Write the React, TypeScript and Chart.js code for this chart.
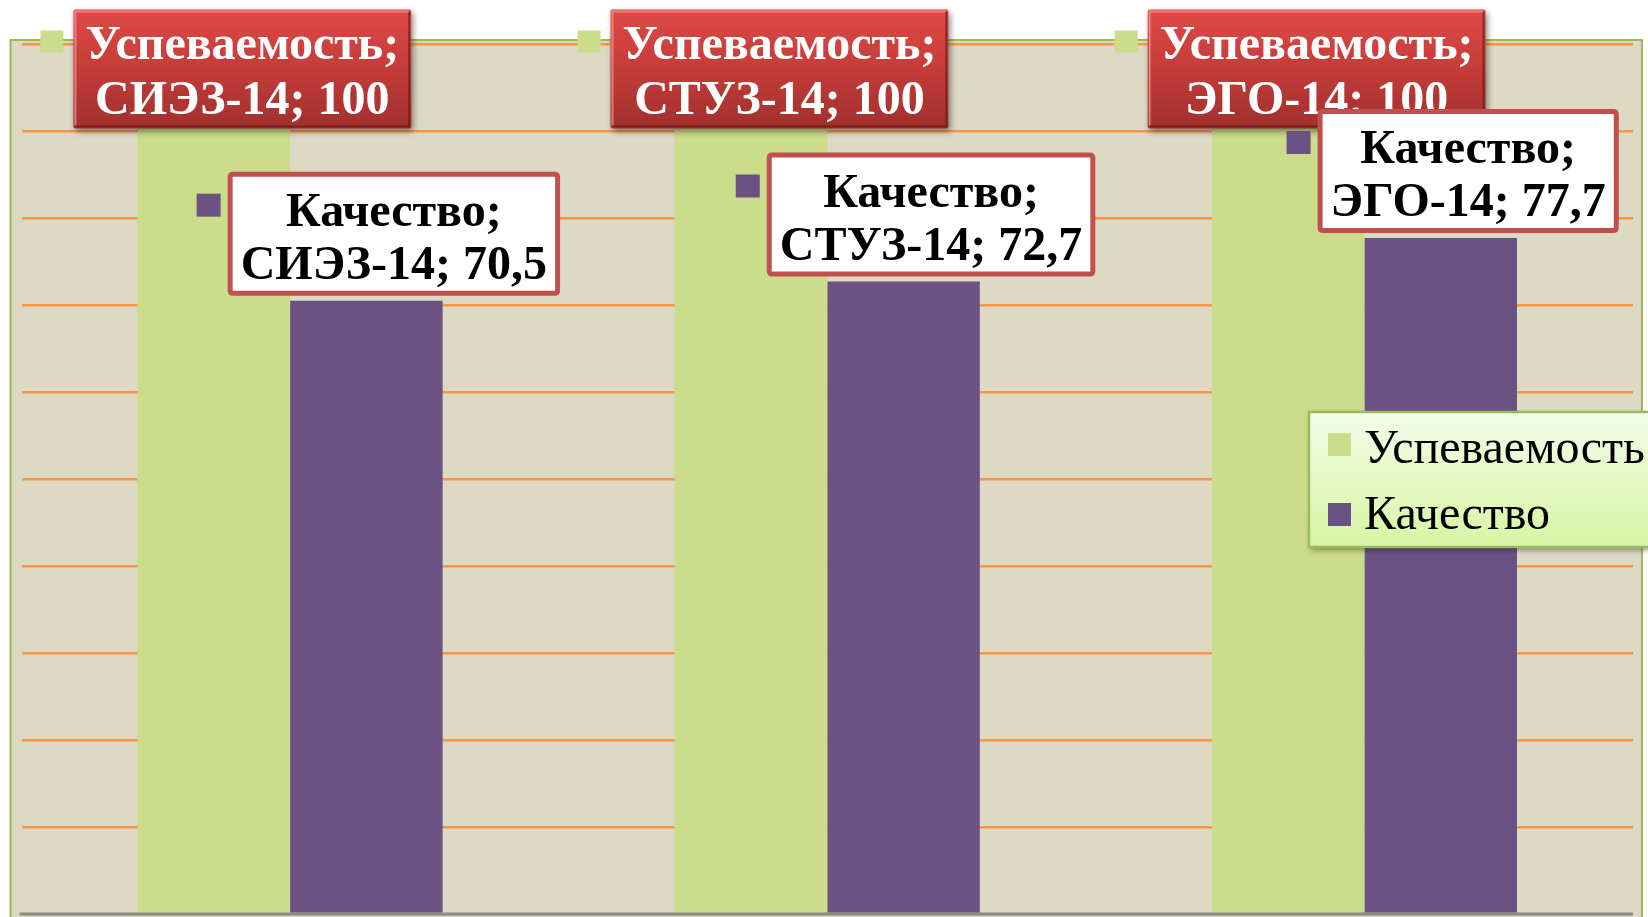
import React, { useEffect, useRef } from 'react';
import { Chart, registerables } from 'chart.js';

Chart.register(...registerables);

const categories = ['СИЭЗ-14', 'СТУЗ-14', 'ЭГО-14'];
const seriesNames = ['Успеваемость', 'Качество'];
const uspevaemost = [100, 100, 100];
const kachestvo = [70.5, 72.7, 77.7];
const yMin = 0;
const yMax = 100;
const yStep = 10;

const seriesColors = ['#cbdc8a', '#6a5384'];
const SERIF = "'Liberation Serif', 'Times New Roman', serif";

const fmt = (v: number) => String(v).replace('.', ',');

function roundRect(ctx: CanvasRenderingContext2D, x: number, y: number, w: number, h: number, r: number) {
  ctx.beginPath();
  ctx.moveTo(x + r, y);
  ctx.lineTo(x + w - r, y);
  ctx.quadraticCurveTo(x + w, y, x + w, y + r);
  ctx.lineTo(x + w, y + h - r);
  ctx.quadraticCurveTo(x + w, y + h, x + w - r, y + h);
  ctx.lineTo(x + r, y + h);
  ctx.quadraticCurveTo(x, y + h, x, y + h - r);
  ctx.lineTo(x, y + r);
  ctx.quadraticCurveTo(x, y, x + r, y);
  ctx.closePath();
}

const framePlugin = {
  id: 'frame',
  beforeDraw(chart: any) {
    const { ctx, chartArea: a } = chart;
    ctx.save();
    ctx.fillStyle = '#ffffff';
    ctx.fillRect(0, 0, chart.width, chart.height);
    const fx = a.left - 11;
    const fy = a.top - 4;
    const fw = a.right + 9 - fx;
    const fh = chart.height + 10 - fy;
    ctx.fillStyle = '#ddd9c3';
    ctx.fillRect(fx, fy, fw, fh);
    ctx.strokeStyle = '#9bbb59';
    ctx.lineWidth = 2;
    ctx.strokeRect(fx, fy, fw, fh);
    ctx.restore();
  },
};

const labelsPlugin = {
  id: 'customLabels',
  afterDatasetsDraw(chart: any) {
    const { ctx, chartArea: a } = chart;
    const yScale = chart.scales.y;
    ctx.save();
    const y0 = yScale.getPixelForValue(0);
    ctx.strokeStyle = '#8c8c86';
    ctx.lineWidth = 3;
    ctx.beginPath();
    ctx.moveTo(a.left - 2, y0);
    ctx.lineTo(a.right, y0);
    ctx.stroke();
    ctx.restore();

    ctx.save();
    ctx.font = `bold 48px ${SERIF}`;
    ctx.textAlign = 'center';
    ctx.textBaseline = 'alphabetic';

    const meta0 = chart.getDatasetMeta(0);
    meta0.data.forEach((bar: any, i: number) => {
      const l1 = `${chart.data.datasets[0].label};`;
      const l2 = `${chart.data.labels[i]}; ${fmt(chart.data.datasets[0].data[i])}`;
      const w = Math.max(ctx.measureText(l1).width, ctx.measureText(l2).width) + 24;
      const h = 119;
      const cx = bar.x + 28.5;
      const bx = cx - w / 2;
      const by = bar.y - 34.5;
      ctx.fillStyle = seriesColors[0];
      ctx.fillRect(bx - 33, by + 21, 23, 22);
      ctx.save();
      ctx.shadowColor = 'rgba(0,0,0,0.45)';
      ctx.shadowBlur = 6;
      ctx.shadowOffsetX = 2;
      ctx.shadowOffsetY = 3;
      const g = ctx.createLinearGradient(0, by, 0, by + h);
      g.addColorStop(0, '#de4a46');
      g.addColorStop(0.5, '#c43c39');
      g.addColorStop(1, '#a0302d');
      ctx.fillStyle = g;
      roundRect(ctx, bx, by, w, h, 2);
      ctx.fill();
      ctx.restore();
      ctx.save();
      ctx.strokeStyle = 'rgba(255,170,165,0.6)';
      ctx.lineWidth = 2;
      ctx.beginPath();
      ctx.moveTo(bx + 2, by + h - 3);
      ctx.lineTo(bx + 2, by + 2);
      ctx.lineTo(bx + w - 2, by + 2);
      ctx.stroke();
      ctx.strokeStyle = 'rgba(90,20,18,0.6)';
      ctx.beginPath();
      ctx.moveTo(bx + w - 2, by + 2);
      ctx.lineTo(bx + w - 2, by + h - 2);
      ctx.lineTo(bx + 2, by + h - 2);
      ctx.stroke();
      ctx.restore();
      ctx.fillStyle = '#ffffff';
      ctx.fillText(l1, cx, by + 49);
      ctx.fillText(l2, cx, by + 104);
    });

    const meta1 = chart.getDatasetMeta(1);
    meta1.data.forEach((bar: any, i: number) => {
      const l1 = `${chart.data.datasets[1].label};`;
      const l2 = `${chart.data.labels[i]}; ${fmt(chart.data.datasets[1].data[i])}`;
      const w = Math.max(ctx.measureText(l1).width, ctx.measureText(l2).width) + 24;
      const h = 122;
      const cx = bar.x + 27.5;
      const bx = cx - w / 2;
      const by = bar.y - 6 - h;
      ctx.fillStyle = seriesColors[1];
      ctx.fillRect(bx - 32, by + 21, 24, 23);
      ctx.fillStyle = '#ffffff';
      roundRect(ctx, bx, by, w, h, 3);
      ctx.fill();
      ctx.strokeStyle = '#c0504d';
      ctx.lineWidth = 5;
      roundRect(ctx, bx + 1.5, by + 1.5, w - 3, h - 3, 3);
      ctx.stroke();
      ctx.fillStyle = '#000000';
      ctx.fillText(l1, cx, by + 53);
      ctx.fillText(l2, cx, by + 106);
    });
    ctx.restore();
  },
  afterDraw(chart: any) {
    const { ctx } = chart;
    ctx.save();
    const lx = 1309;
    const ly = 412;
    const lw = 360;
    const lh = 135;
    ctx.save();
    ctx.shadowColor = 'rgba(0,0,0,0.4)';
    ctx.shadowBlur = 6;
    ctx.shadowOffsetX = 2;
    ctx.shadowOffsetY = 3;
    const g = ctx.createLinearGradient(0, ly, 0, ly + lh);
    g.addColorStop(0, '#f4fde9');
    g.addColorStop(1, '#d7f5a4');
    ctx.fillStyle = g;
    ctx.fillRect(lx, ly, lw, lh);
    ctx.restore();
    ctx.strokeStyle = '#9bbb59';
    ctx.lineWidth = 2.5;
    ctx.strokeRect(lx, ly, lw, lh);
    ctx.font = `48px ${SERIF}`;
    ctx.textAlign = 'left';
    ctx.textBaseline = 'alphabetic';
    chart.data.datasets.forEach((ds: any, i: number) => {
      const rowY = [433, 503][i];
      const base = [463, 529][i];
      ctx.fillStyle = ds.backgroundColor;
      ctx.fillRect(1328, rowY, 23, 23);
      ctx.fillStyle = '#000000';
      ctx.fillText(ds.label, 1364, base);
    });
    ctx.restore();
  },
};

export default function App() {
  const ref = useRef<HTMLCanvasElement | null>(null);
  useEffect(() => {
    if (!ref.current) return;
    const chart = new Chart(ref.current, {
      type: 'bar',
      data: {
        labels: categories,
        datasets: [
          { label: seriesNames[0], data: uspevaemost, backgroundColor: seriesColors[0], borderWidth: 0 },
          { label: seriesNames[1], data: kachestvo, backgroundColor: seriesColors[1], borderWidth: 0 },
        ],
      },
      options: {
        animation: false,
        responsive: false,
        maintainAspectRatio: false,
        devicePixelRatio: 1,
        layout: { padding: { left: 21.5, right: 15, top: 44, bottom: 3 } },
        datasets: { bar: { categoryPercentage: 0.568, barPercentage: 1 } },
        plugins: {
          legend: { display: false },
          tooltip: { enabled: false },
          title: { display: false },
        },
        scales: {
          x: { display: false },
          y: {
            min: yMin,
            max: yMax,
            ticks: { display: false, stepSize: yStep },
            border: { display: false },
            grid: { color: '#f79646', lineWidth: 2.5, drawTicks: false },
          },
        },
      },
      plugins: [framePlugin, labelsPlugin],
    });
    return () => chart.destroy();
  }, []);
  return (
    <div style={{ position: 'fixed', left: 0, top: 0, width: 1648, height: 917, background: '#fff' }}>
      <canvas ref={ref} width={1648} height={917} style={{ width: 1648, height: 917, display: 'block' }} />
    </div>
  );
}
